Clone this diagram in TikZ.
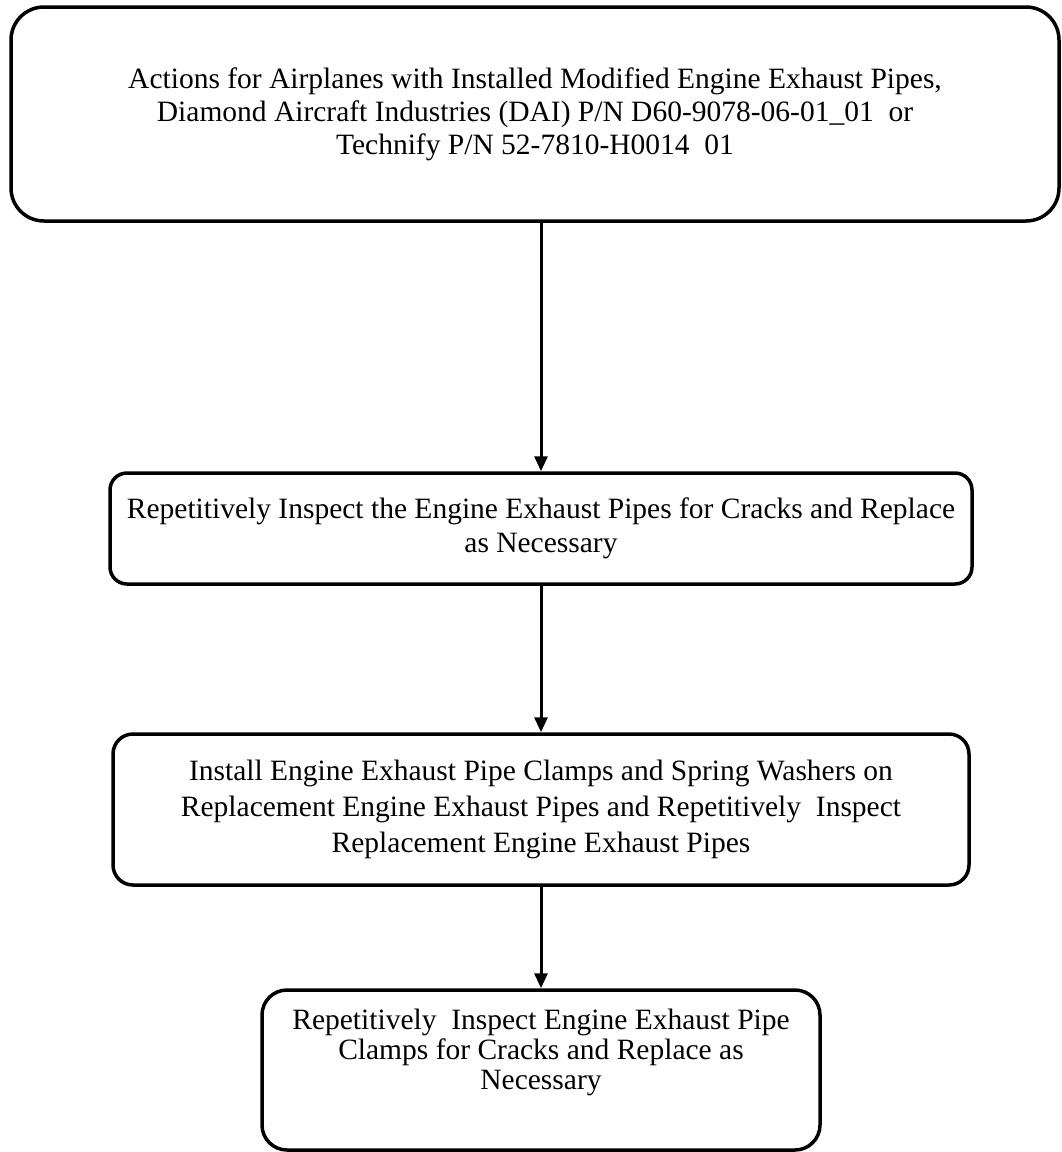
\documentclass[tikz,border=0pt]{standalone}
\usepackage{fontspec}
\setmainfont{Liberation Serif}
\usetikzlibrary{arrows.meta}
\begin{document}
\begin{tikzpicture}[x=1pt,y=-1pt,
  stepbox/.style={draw=black, line width=3.5pt, rounded corners=#1, inner sep=0pt, align=center},
  flowarrow/.style={line width=3pt, -{Triangle[length=15pt,width=13pt]}},
  txt/.style={inner sep=0pt, align=center}]
\useasboundingbox (0,0) rectangle (1062,1152);

\node[stepbox=33pt, minimum width=1048pt, minimum height=214pt,
      font=\fontsize{29.5}{33}\selectfont] (b1) at (535,114)
  {Actions for Airplanes with Installed Modified Engine Exhaust Pipes,\\
   Diamond Aircraft Industries (DAI) P/N D60-9078-06-01\_01~ or\\
   Technify P/N 52-7810-H0014~ 01};

\node[stepbox=17pt, minimum width=862pt, minimum height=111pt,
      font=\fontsize{29.5}{34}\selectfont] (b2) at (541,528.5)
  {Repetitively Inspect the Engine Exhaust Pipes for Cracks and Replace\\
   as Necessary};

\node[stepbox=20pt, minimum width=856pt, minimum height=151pt,
      font=\fontsize{29.5}{36}\selectfont] (b3) at (541,809.5)
  {Install Engine Exhaust Pipe Clamps and Spring Washers on\\
   Replacement Engine Exhaust Pipes and Repetitively~ Inspect\\
   Replacement Engine Exhaust Pipes};

\node[stepbox=25pt, minimum width=558pt, minimum height=160pt] (b4) at (541,1070) {};
\node[txt, font=\fontsize{29.5}{30}\selectfont] (t4) at (541,1052)
  {Repetitively~ Inspect Engine Exhaust Pipe\\
   Clamps for Cracks and Replace as\\
   Necessary};

\draw[flowarrow] (b2.north |- b1.south) -- (b2.north);
\draw[flowarrow] (b2.south) -- (b3.north);
\draw[flowarrow] (b3.south) -- (b4.north);
\end{tikzpicture}
\end{document}
